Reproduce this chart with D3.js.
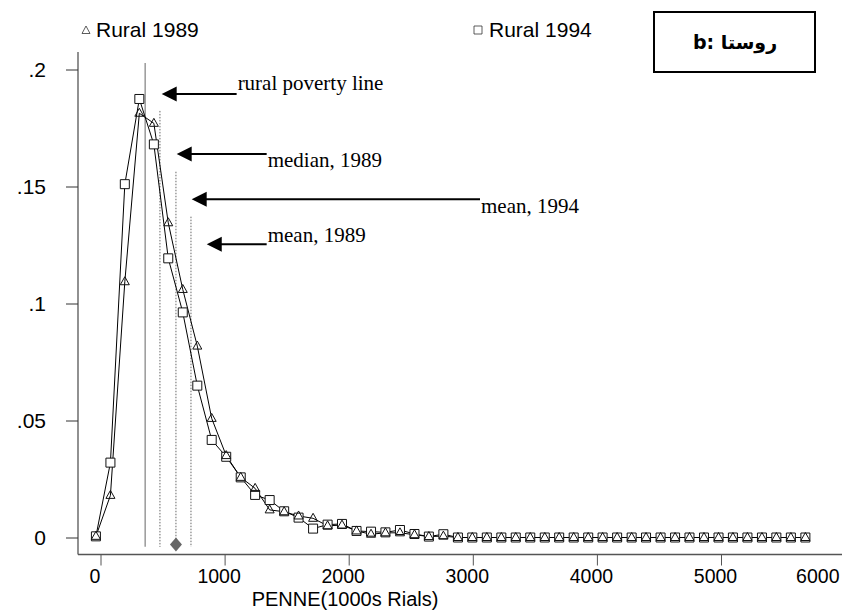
<!DOCTYPE html>
<html><head><meta charset="utf-8">
<script src="https://cdn.jsdelivr.net/npm/d3@7"></script>
<style>html,body{margin:0;padding:0;background:#fff;}svg{display:block;}</style>
</head><body>
<svg id="c" width="842" height="610"></svg>
<script>
// ---- data ----
const xVals = [-37, 80, 196, 313, 430, 546, 663, 780, 896, 1013, 1130, 1246, 1363, 1480, 1596, 1713, 1830, 1946, 2063, 2180, 2296, 2413, 2530, 2646, 2763, 2880, 2996, 3113, 3230, 3346, 3463, 3580, 3696, 3813, 3930, 4046, 4163, 4280, 4396, 4513, 4630, 4746, 4863, 4980, 5096, 5213, 5330, 5446, 5563, 5680];
const rural1989 = [0.0005, 0.018, 0.1093, 0.1813, 0.177, 0.1345, 0.106, 0.0818, 0.0509, 0.035, 0.0257, 0.021, 0.0118, 0.011, 0.0092, 0.0082, 0.005, 0.0053, 0.0028, 0.0014, 0.002, 0.002, 0.0012, 0.0004, 0.0006, 0, 0, 0, 0, 0, 0, 0, 0, 0, 0, 0, 0, 0, 0, 0, 0, 0, 0, 0, 0, 0, 0, 0, 0, 0];
const rural1994 = [0.0005, 0.032, 0.151, 0.1874, 0.168, 0.1193, 0.0962, 0.0649, 0.0417, 0.0345, 0.0257, 0.0182, 0.016, 0.0112, 0.0085, 0.0038, 0.0055, 0.0058, 0.0028, 0.0025, 0.0022, 0.0032, 0.0015, 0.0004, 0.0014, 0, 0, 0, 0, 0, 0, 0, 0, 0, 0, 0, 0, 0, 0, 0, 0, 0, 0, 0, 0, 0, 0, 0, 0, 0];
const seriesNames = ["Rural 1989", "Rural 1994"];
const xTicks = [0, 1000, 2000, 3000, 4000, 5000, 6000];
const yTicks = [0, 0.05, 0.1, 0.15, 0.2];
const yTickLabels = ["0", ".05", ".1", ".15", ".2"];
const xTitle = "PENNE(1000s Rials)";
const boxTitle = "b: روستا";
// reference lines: x value, top value
const refLines = [
  {name: "rural poverty line", x: 360, top: 0.2028, dash: false},
  {name: "median, 1989", x: 479, top: 0.1823, dash: true},
  {name: "mean, 1994", x: 608, top: 0.1563, dash: true},
  {name: "mean, 1989", x: 729, top: 0.1371, dash: true}
];
const refBottom = -0.004;
// arrows: tip x, tail x, y, label
const arrows = [
  {label: "rural poverty line", tip: 493, tail: 1097, y: 0.1895, dy: -4},
  {label: "median, 1989", tip: 614, tail: 1339, y: 0.1639, dy: 13},
  {label: "mean, 1994", tip: 735, tail: 3058, y: 0.1445, dy: 14},
  {label: "mean, 1989", tip: 856, tail: 1339, y: 0.1253, dy: -2}
];
const diamond = {x: 608, y: -0.003};

// ---- scales ----
const svg = d3.select("#c");
const x = d3.scaleLinear().domain([0, 5000]).range([100.5, 721]);
const y = d3.scaleLinear().domain([0, 0.2]).range([537.5, 69.5]);
const sans = "'Liberation Sans', Arial, sans-serif";
const serif = "'Liberation Serif', 'Times New Roman', serif";
const FS = 21;

// axes lines
svg.append("line").attr("x1", 78).attr("x2", 78).attr("y1", 52).attr("y2", 554.5).attr("stroke", "#555").attr("stroke-width", 1.3);
svg.append("line").attr("x1", 78).attr("x2", 842).attr("y1", 554.5).attr("y2", 554.5).attr("stroke", "#555").attr("stroke-width", 1.3);

const yAxis = svg.append("g").attr("transform", "translate(78,0)")
  .call(d3.axisLeft(y).tickValues(yTicks).tickSize(12).tickPadding(20)
    .tickFormat((d, i) => yTickLabels[i]));
yAxis.select(".domain").remove();
yAxis.selectAll("line").attr("stroke", "#333");
yAxis.selectAll("text").attr("font-family", sans).attr("font-size", FS).attr("fill", "#000");

const xAxis = svg.append("g").attr("transform", "translate(0,554.5)")
  .call(d3.axisBottom(x).tickValues(xTicks).tickSize(11).tickPadding(4).tickFormat(d3.format("d")));
xAxis.select(".domain").remove();
xAxis.selectAll("line").attr("stroke", "#555");
xAxis.selectAll("text").attr("font-family", sans).attr("font-size", 19.5).attr("fill", "#000").attr("x", -6);
// keep the last label inside the canvas
xAxis.selectAll(".tick").filter(d => d === 6000).select("text")
  .attr("text-anchor", "end").attr("x", 839 - x(6000));

svg.append("text").attr("x", 345).attr("y", 606).attr("text-anchor", "middle")
  .attr("font-family", sans).attr("font-size", 20).text(xTitle);

// reference lines
refLines.forEach(r => {
  svg.append("line").attr("x1", x(r.x)).attr("x2", x(r.x))
    .attr("y1", y(r.top)).attr("y2", y(refBottom))
    .attr("stroke", r.dash ? "#666" : "#999")
    .attr("stroke-width", r.dash ? 1 : 1.5)
    .attr("stroke-dasharray", r.dash ? "1.5,1.5" : null);
});

// diamond
svg.append("path").attr("d", "M0,-7L6,0L0,7L-6,0Z")
  .attr("transform", `translate(${x(diamond.x)},${y(diamond.y)})`).attr("fill", "#666");

// lines
const pts1 = xVals.map((v, i) => [v, rural1989[i]]);
const pts2 = xVals.map((v, i) => [v, rural1994[i]]);
const line = d3.line().x(d => x(d[0])).y(d => y(d[1]));
svg.append("path").attr("d", line(pts2)).attr("fill", "none").attr("stroke", "#000").attr("stroke-width", 1);
svg.append("path").attr("d", line(pts1)).attr("fill", "none").attr("stroke", "#000").attr("stroke-width", 1);

const sq = "M-4.5,-4.5H4.5V4.5H-4.5Z";
const tri = "M0,-4.5L4.5,3.5L-4.5,3.5Z";
svg.append("g").selectAll("path").data(pts2).join("path").attr("d", sq)
  .attr("transform", d => `translate(${x(d[0])},${y(d[1])})`)
  .attr("fill", "#fff").attr("stroke", "#111").attr("stroke-width", 1);
svg.append("g").selectAll("path").data(pts1).join("path").attr("d", tri)
  .attr("transform", d => `translate(${x(d[0])},${y(d[1]) - 0.5})`)
  .attr("fill", "none").attr("stroke", "#111").attr("stroke-width", 1);

// arrows
arrows.forEach(a => {
  const tx = x(a.tip), ty = y(a.y), ex = x(a.tail);
  svg.append("line").attr("x1", tx + 12).attr("x2", ex).attr("y1", ty).attr("y2", ty)
    .attr("stroke", "#000").attr("stroke-width", 2);
  svg.append("path").attr("d", `M${tx},${ty}L${tx + 15},${ty - 7.5}L${tx + 15},${ty + 7.5}Z`).attr("fill", "#000");
  svg.append("text").attr("x", ex + 1).attr("y", ty + a.dy)
    .attr("font-family", serif).attr("font-size", FS).text(a.label);
});

// legend
const lg = svg.append("g");
lg.append("path").attr("d", "M0,-4L4,3.5L-4,3.5Z").attr("transform", "translate(86,30)")
  .attr("fill", "none").attr("stroke", "#333").attr("stroke-width", 0.8);
lg.append("text").attr("x", 96).attr("y", 37).attr("font-family", sans).attr("font-size", FS).text(seriesNames[0]);
lg.append("path").attr("d", "M-4,-4H4V4H-4Z").attr("transform", "translate(478,30)")
  .attr("fill", "none").attr("stroke", "#333").attr("stroke-width", 0.8);
lg.append("text").attr("x", 489).attr("y", 37).attr("font-family", sans).attr("font-size", FS).text(seriesNames[1]);

// title box
svg.append("rect").attr("x", 654).attr("y", 12).attr("width", 161).attr("height", 60)
  .attr("fill", "none").attr("stroke", "#000").attr("stroke-width", 2);
svg.append("text").attr("x", 735).attr("y", 49).attr("text-anchor", "middle")
  .attr("font-family", "'DejaVu Sans', 'Noto Sans', sans-serif").attr("font-weight", "bold").attr("font-size", 19)
  .text(boxTitle);
</script>
</body></html>
